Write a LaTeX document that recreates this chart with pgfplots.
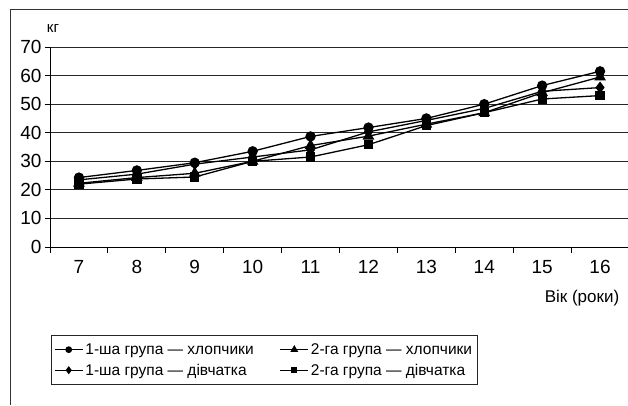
\documentclass[border=0pt]{standalone}
\usepackage{fontspec}
\setmainfont{Liberation Sans}
\usepackage{pgfplots}
\pgfplotsset{compat=1.18}
\begin{document}
\begin{tikzpicture}[x=1pt,y=1pt]
\useasboundingbox (0,0) rectangle (628,405);
\draw[line width=1pt, black!80] (10,0) -- (10,395) -- (640,395);
\begin{axis}[
  at={(50pt,158pt)}, anchor=south west,
  scale only axis, width=579pt, height=200pt,
  xmin=6.5, xmax=16.5, ymin=0, ymax=70,
  axis x line*=bottom, axis y line*=left,
  axis line style={black, line width=1pt},
  xtick={7,...,16}, ytick={0,10,...,70},
  minor xtick={6.5,7.5,...,16.5},
  major x tick style={draw=none},
  minor x tick style={black, line width=1pt},
  y tick style={black, line width=1pt},
  tick align=outside, major tick length=5pt, minor tick length=6pt,
  ymajorgrids, grid style={black!85, line width=1pt},
  /pgf/number format/assume math mode=true,
  tick label style={font=\fontsize{19}{22}\selectfont},
  xticklabel style={yshift=-5pt},
  legend columns=2,
  legend cell align=left,
  legend style={at={(0.001,-0.44)}, anchor=north west, draw=black!85, line width=1pt,
    font=\fontsize{15.5}{18}\selectfont, inner xsep=3pt, inner ysep=6pt, row sep=4pt,
    /tikz/every even column/.append style={column sep=24pt}},
  legend image code/.code={\draw[#1, mark repeat=2, mark phase=2, mark options={scale=0.6}] plot coordinates {(0pt,0pt) (14pt,0pt) (28pt,0pt)};},
  every axis plot/.append style={black, line width=1.3pt, mark options={solid, fill=black}},
]
\addplot[mark=*, mark size=4.5pt] coordinates {(7,24.3) (8,26.8) (9,29.5) (10,33.5) (11,38.7) (12,41.8) (13,45) (14,50) (15,56.5) (16,61.5)};
\addlegendentry{1-ша група — хлопчики}
\addplot[mark=triangle*, mark size=5.5pt] coordinates {(7,22.3) (8,24.3) (9,25.8) (10,30) (11,35.5) (12,38.8) (13,43) (14,47) (15,54) (16,59.5)};
\addlegendentry{2-га група — хлопчики}
\addplot[mark=diamond*, mark size=5pt] coordinates {(7,23.5) (8,25.5) (9,29) (10,31.5) (11,34) (12,40.3) (13,44.3) (14,48.5) (15,54.5) (16,55.8)};
\addlegendentry{1-ша група — дівчатка}
\addplot[mark=square*, mark size=4pt] coordinates {(7,22) (8,23.8) (9,24.5) (10,30) (11,31.5) (12,35.8) (13,42.5) (14,47) (15,51.8) (16,53)};
\addlegendentry{2-га група — дівчатка}
\end{axis}
\node[font=\fontsize{15}{17}\selectfont] at (53,376) {кг};
\node[font=\fontsize{17}{20}\selectfont] at (582,107) {Вік (роки)};
\end{tikzpicture}
\end{document}
